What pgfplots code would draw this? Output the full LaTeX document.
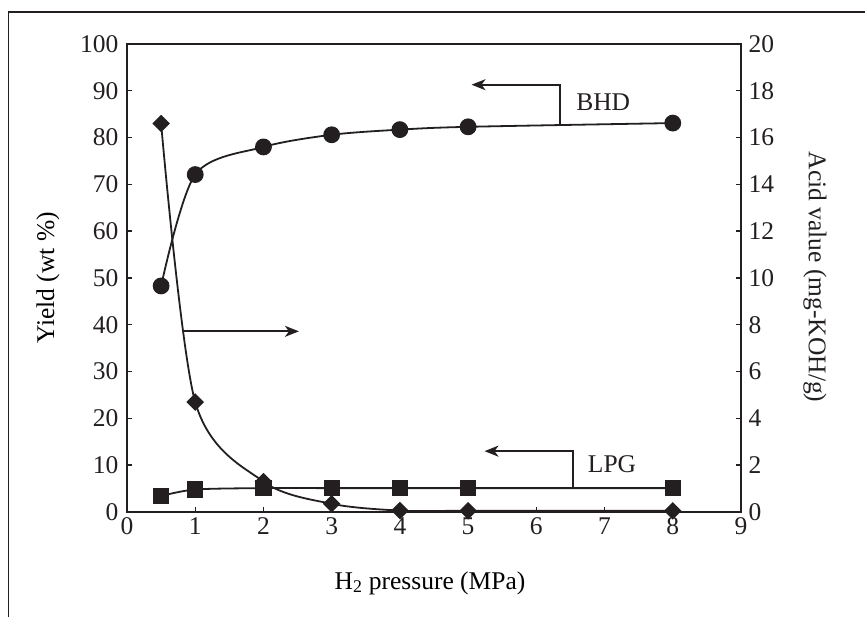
\documentclass[border=0pt]{standalone}
\usepackage{pgfplots}
\pgfplotsset{compat=1.18}
\usepackage{fontspec}
\setmainfont{Liberation Serif}
\usetikzlibrary{arrows.meta}
\definecolor{ink}{HTML}{231F20}

\pgfplotstableread{
x y
0.5 48.3
1 72.1
2 78.0
3 80.6
4 81.7
5 82.3
8 83.1
}\bhd
\pgfplotstableread{
x y
0.5 3.4
1 4.8
2 5.1
3 5.1
4 5.1
5 5.1
8 5.1
}\lpg
\pgfplotstableread{
x y
0.5 16.6
1 4.7
2 1.3
3 0.35
4 0.06
5 0.05
8 0.05
}\acid

\begin{document}
\begin{tikzpicture}[font=\fontsize{25.5}{30}\selectfont]
\begin{axis}[
  at={(127pt,105pt)}, anchor=south west,
  scale only axis, width=614pt, height=468pt,
  xmin=0, xmax=9, ymin=0, ymax=100,
  xtick={0,1,...,9}, ytick={0,10,...,100},
  xtick pos=lower, ytick pos=left, tick align=inside,
  major tick length=5pt,
  axis line style={line width=2pt, ink},
  every tick/.style={line width=1.4pt, ink},
  /pgf/number format/assume math mode=true,
  tick label style={font=\fontsize{25.5}{30}\selectfont, text=ink},
  yticklabel style={xshift=-5pt},
  xticklabel style={yshift=-2pt},
  label style={font=\fontsize{25.5}{30}\selectfont, text=ink},
  xlabel={H\textsubscript{2} pressure (MPa)},
  ylabel={Yield (wt \%)},
  every axis x label/.style={at={(axis description cs:0.4935,-0.152)}, anchor=center},
  every axis y label/.style={at={(axis description cs:-0.1287,0.5)}, anchor=center, rotate=90},
  clip=false,
]
\addplot[ink, line width=1.8pt, smooth, mark=*, mark size=7.5pt, mark options={fill=ink, draw=ink}] table {\bhd};
\addplot[ink, line width=1.8pt, smooth, mark=square*, mark size=7.2pt, mark options={fill=ink, draw=ink}] table {\lpg};
% BHD annotation
\draw[ink, line width=1.8pt, -{Stealth[length=14pt,width=11pt,inset=4pt]}] (axis cs:6.35,82.7) -- (axis cs:6.35,91.3) -- (axis cs:5.05,91.3);
\node[ink, font=\fontsize{25.5}{30}\selectfont] at (axis cs:6.98,87.6) {BHD};
% LPG annotation
\draw[ink, line width=1.8pt, -{Stealth[length=14pt,width=11pt,inset=4pt]}] (axis cs:6.54,5.1) -- (axis cs:6.54,13.0) -- (axis cs:5.24,13.0);
\node[ink, font=\fontsize{25.5}{30}\selectfont] at (axis cs:7.11,10.3) {LPG};
% acid arrow
\draw[ink, line width=1.8pt, -{Stealth[length=14pt,width=11pt,inset=4pt]}] (axis cs:0.82,38.6) -- (axis cs:2.52,38.6);
\end{axis}
\begin{axis}[
  at={(127pt,105pt)}, anchor=south west,
  scale only axis, width=614pt, height=468pt,
  xmin=0, xmax=9, ymin=0, ymax=20,
  ytick={0,2,...,20},
  axis x line=none, axis y line*=right, tick align=inside,
  major tick length=5pt,
  axis line style={line width=2pt, ink},
  every tick/.style={line width=1.4pt, ink},
  /pgf/number format/assume math mode=true,
  tick label style={font=\fontsize{25.5}{30}\selectfont, text=ink},
  yticklabel style={xshift=4pt},
  ylabel={Acid value (mg-KOH/g)},
  every axis y label/.style={at={(axis description cs:1.1205,0.502)}, anchor=center, rotate=-90, font=\fontsize{25.5}{30}\selectfont, text=ink},
  clip=false,
]
\addplot[ink, line width=1.8pt, smooth, mark=square*, mark size=5.3pt, mark options={fill=ink, draw=ink, rotate=45}] table {\acid};
\end{axis}
\draw[line width=1.2pt,ink] (8.5pt,0pt) -- (8.5pt,605pt) -- (865pt,605pt);
\pgfresetboundingbox
\useasboundingbox (0pt,0pt) rectangle (865pt,617pt);
\end{tikzpicture}
\end{document}
